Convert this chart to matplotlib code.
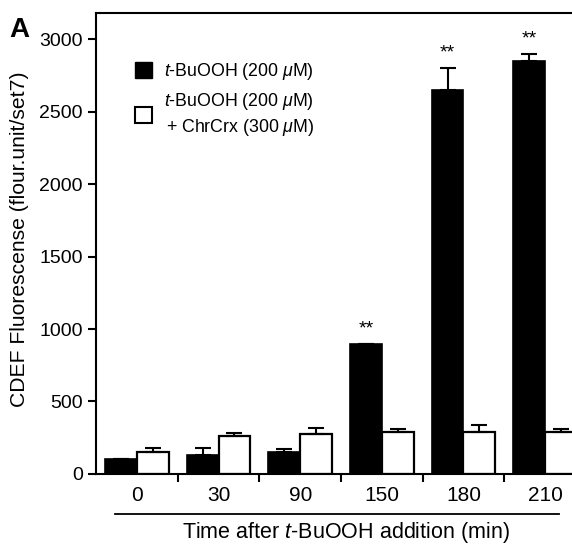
import numpy as np
import matplotlib
matplotlib.use("Agg")
import matplotlib.pyplot as plt
from matplotlib.patches import Patch

plt.rcParams['font.family'] = ['Liberation Sans', 'DejaVu Sans']
plt.rcParams['mathtext.fontset'] = 'custom'
plt.rcParams['mathtext.rm'] = 'Liberation Sans'
plt.rcParams['mathtext.it'] = 'Liberation Sans:italic'

# data
times = ['0', '30', '90', '150', '180', '210']
buooh = [100, 130, 150, 900, 2650, 2850]
buooh_err = [0, 50, 20, 0, 150, 50]
chrcrx = [150, 260, 275, 290, 290, 290]
chrcrx_err = [30, 20, 40, 20, 45, 20]
stars = ['', '', '', '**', '**', '**']

fig = plt.figure(figsize=(5.72, 5.46), dpi=100)
ax = fig.add_axes([0.168, 0.132, 0.835, 0.844])

x = np.arange(len(times))
w = 0.39
zeros = np.zeros(len(times))
ax.bar(x - w/2, buooh, w, color='black', edgecolor='black', linewidth=1.2,
       yerr=[zeros, buooh_err], capsize=6, error_kw=dict(elinewidth=1.5, capthick=1.5))
ax.bar(x + w/2, chrcrx, w, color='white', edgecolor='black', linewidth=1.6,
       yerr=[zeros, chrcrx_err], capsize=6, error_kw=dict(elinewidth=1.5, capthick=1.5))

for i, s in enumerate(stars):
    if s:
        ax.text(x[i] - w/2, buooh[i] + buooh_err[i] + 45, s, ha='center', va='bottom',
                fontsize=14)

ax.set_xlim(-0.5, 5.35)
ax.set_ylim(0, 3180)
ax.set_yticks([0, 500, 1000, 1500, 2000, 2500, 3000])
ax.tick_params(axis='y', direction='out', length=6, width=1.5, labelsize=14)

ax.set_xticks(x[:-1] + 0.5)
ax.set_xticks(x, minor=True)
ax.set_xticklabels(times, minor=True, fontsize=15)
ax.tick_params(axis='x', which='major', labelbottom=False, length=6, width=1.5)
ax.tick_params(axis='x', which='minor', length=0, pad=9)

ax.spines['right'].set_visible(False)
for sp in ['left', 'bottom', 'top']:
    ax.spines[sp].set_linewidth(1.5)

ax.set_ylabel('CDEF Fluorescense (flour.unit/set7)', fontsize=15.2)
ax.yaxis.set_label_coords(-0.14, 0.51)

# rule under the category labels
trans = ax.get_xaxis_transform()
ax.plot([-0.27, 5.17], [-0.087, -0.087], color='black', lw=1.3, transform=trans, clip_on=False)
ax.text(2.56, -0.128, 'Time after $t$-BuOOH addition (min)', transform=trans,
        ha='center', va='center', fontsize=15.5)

handles = [Patch(facecolor='black', edgecolor='black'),
           Patch(facecolor='white', edgecolor='black', linewidth=1.5)]
labels = [r'$t$-BuOOH (200 $\mu$M)', '$t$-BuOOH (200 $\mu$M)\n+ ChrCrx (300 $\mu$M)']
leg = ax.legend(handles, labels, loc='upper left', bbox_to_anchor=(0.063, 0.915), frameon=False,
                fontsize=12.8, handlelength=0.95, handleheight=1.0, labelspacing=0.5,
                handletextpad=0.7, borderpad=0)
leg.get_texts()[1].set_multialignment('right')
leg.get_texts()[1].set_linespacing(1.35)

fig.text(0.017, 0.945, 'A', fontsize=20, fontweight='bold', va='center')

fig.savefig('out.png', dpi=100)
